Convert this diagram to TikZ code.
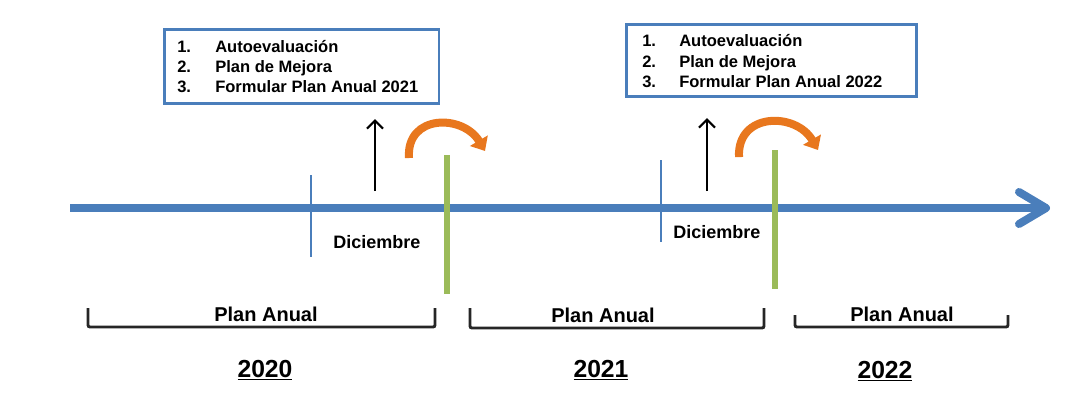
\documentclass[tikz,border=0pt]{standalone}
\usepackage{fontspec}
\setmainfont{Liberation Sans}
\usetikzlibrary{arrows.meta}
\definecolor{axisblue}{HTML}{4A7EBB}
\definecolor{boxblue}{HTML}{4A7EBB}
\definecolor{bargreen}{HTML}{9BBB59}
\definecolor{arcorange}{HTML}{E8771E}
\begin{document}
\begin{tikzpicture}[x=0.75pt,y=-0.75pt,
  axisline/.style={draw=axisblue, line width=6.5pt},
  axishead/.style={draw=axisblue, line width=6pt, line cap=round, line join=round},
  tickline/.style={draw=axisblue, line width=2pt},
  greenbar/.style={draw=bargreen, line width=4.5pt},
  uparrow/.style={draw=black, line width=1.7pt, -{Straight Barb[length=6pt,width=12pt]}},
  hop/.style={draw=arcorange, line width=6pt, -{Triangle[length=9pt,width=15pt]}},
  infobox/.style={draw=boxblue, line width=2pt, fill=white, anchor=north west, inner sep=0},
  bracket/.style={draw=black!85, line width=2.2pt, rounded corners=1.5pt},
  item/.style={anchor=base west, inner sep=0, font=\fontsize{12.4}{14}\selectfont\bfseries},
  lbl/.style={inner sep=0, anchor=base, font=\fontsize{15}{18}\selectfont\bfseries},
  yearlbl/.style={inner sep=0, anchor=base, font=\fontsize{18.5}{22}\selectfont\bfseries},
  diclbl/.style={inner sep=0, anchor=base west, font=\fontsize{13.5}{16}\selectfont\bfseries}
]
\useasboundingbox (0,0) rectangle (1072,405);

% main axis
\coordinate (axstart) at (70,208);
\coordinate (axend) at (1044,208);
\coordinate (axtip) at (1046,208);
\coordinate (axup) at (1019,192);
\coordinate (axdown) at (1019,224);
\draw[axisline] (axstart) -- (axend);
\draw[axishead] (axup) -- (axtip) -- (axdown);

% december ticks
\coordinate (t1a) at (311,175); \coordinate (t1b) at (311,257);
\coordinate (t2a) at (661,160); \coordinate (t2b) at (661,242);
\draw[tickline] (t1a) -- (t1b);
\draw[tickline] (t2a) -- (t2b);

% green bars
\coordinate (g1a) at (447,155); \coordinate (g1b) at (447,294);
\coordinate (g2a) at (775,150); \coordinate (g2b) at (775,289);
\draw[greenbar] (g1a) -- (g1b);
\draw[greenbar] (g2a) -- (g2b);

% black arrows
\coordinate (b1a) at (375,191); \coordinate (b1b) at (375,119);
\coordinate (b2a) at (707,191); \coordinate (b2b) at (707,118);
\draw[uparrow] (b1a) -- (b1b);
\draw[uparrow] (b2a) -- (b2b);

% orange curved arrows
\coordinate (o1a) at (409,158); \coordinate (o1b) at (485,151);
\coordinate (o2a) at (739,157); \coordinate (o2b) at (818,150);
\draw[hop] (o1a) .. controls (406,114) and (463,114) .. (o1b);
\draw[hop] (o2a) .. controls (737,112) and (796,112) .. (o2b);

% boxes
\node[infobox, minimum width=206pt, minimum height=55.5pt] (box1) at (163,28) {};
\node[item] (n11) at (177,52) {1.};
\node[item] (i11) at (215,52) {Autoevaluación};
\node[item] (n12) at (177,72) {2.};
\node[item] (i12) at (215,72) {Plan de Mejora};
\node[item] (n13) at (177,92) {3.};
\node[item] (i13) at (215,92) {Formular Plan Anual 2021};

\node[infobox, minimum width=217.5pt, minimum height=54pt] (box2) at (625,23) {};
\node[item] (n21) at (642,46) {1.};
\node[item] (i21) at (679,46) {Autoevaluación};
\node[item] (n22) at (642,67) {2.};
\node[item] (i22) at (679,67) {Plan de Mejora};
\node[item] (n23) at (642,87) {3.};
\node[item] (i23) at (679,87) {Formular Plan Anual 2022};

% Diciembre labels
\node[diclbl] (dic1) at (333,248) {Diciembre};
\node[diclbl] (dic2) at (673,238) {Diciembre};

% brackets
\draw[bracket] (88,308) -- (88,327) -- (435,327) -- (435,308);
\draw[bracket] (470,308) -- (470,328) -- (764,328) -- (764,308);
\draw[bracket] (795,315) -- (795,327) -- (1008,327) -- (1008,315);

\node[lbl] (pa1) at (266,321) {Plan Anual};
\node[lbl] (pa2) at (603,322) {Plan Anual};
\node[lbl] (pa3) at (902,321) {Plan Anual};

\node[yearlbl] (y1) at (265,377) {\underline{2020}};
\node[yearlbl] (y2) at (601,377) {\underline{2021}};
\node[yearlbl] (y3) at (885,378) {\underline{2022}};
\end{tikzpicture}
\end{document}
